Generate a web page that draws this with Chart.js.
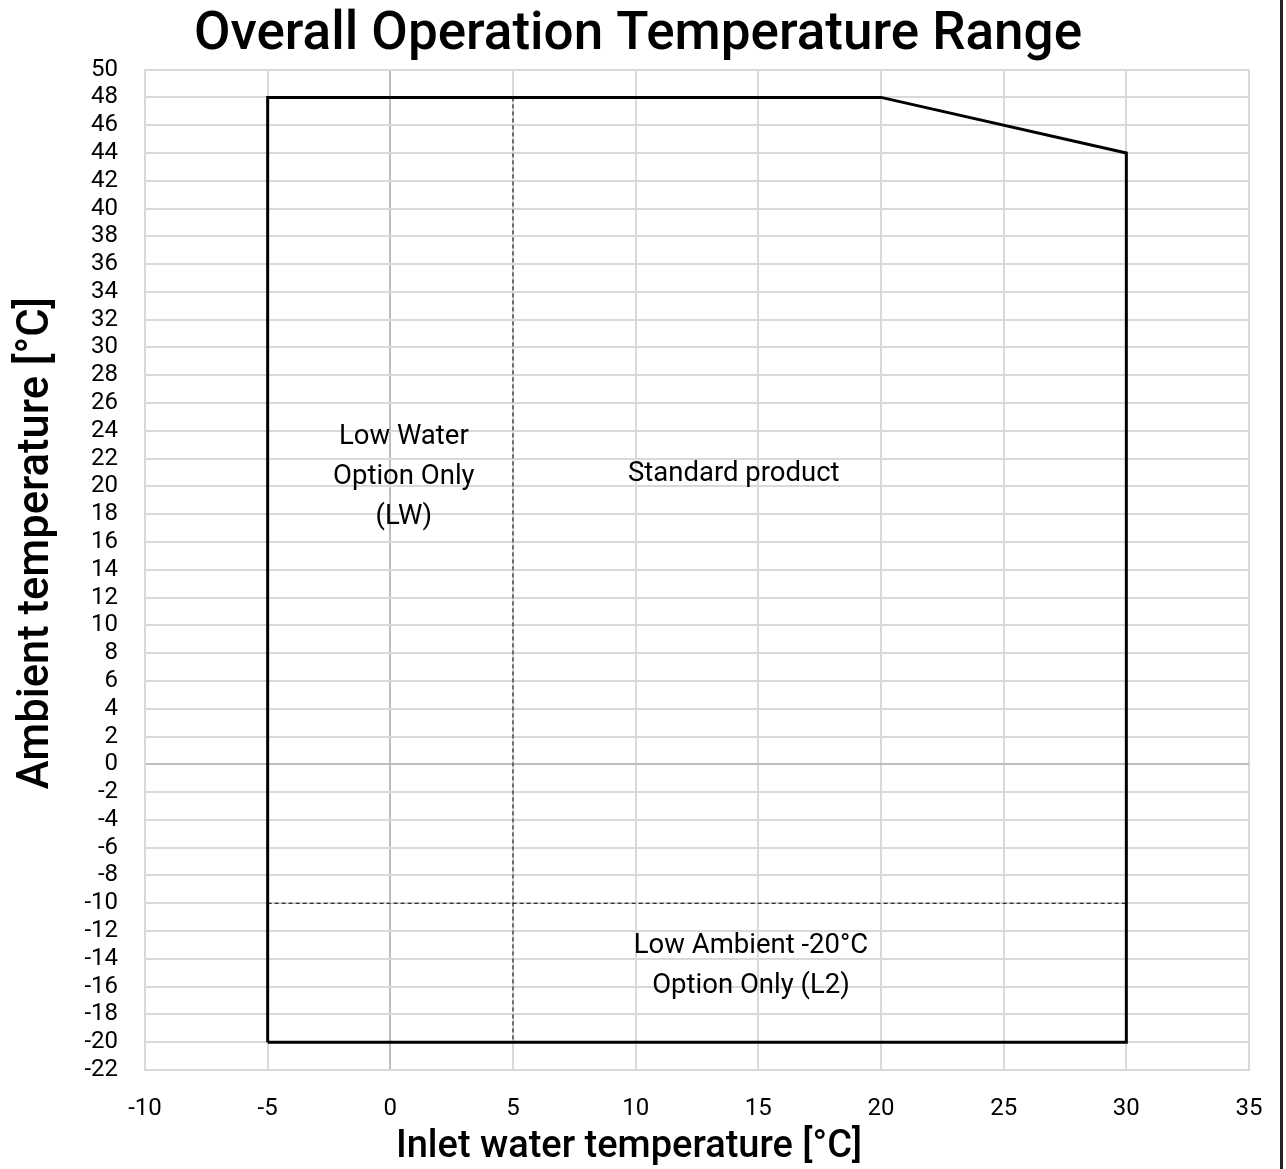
<!DOCTYPE html>
<html>
<head>
<meta charset="utf-8">
<title>Overall Operation Temperature Range</title>
<script src="https://cdn.jsdelivr.net/npm/chart.js@4.4.1/dist/chart.umd.min.js"></script>
<style>
    html, body { margin: 0; padding: 0; background: #fff; }
    #wrap { width: 1280px; height: 1169px; border-right: 3px solid #222; }
    canvas { display: block; }
</style>
</head>
<body>
<div id="wrap"><canvas id="range" width="1280" height="1169"></canvas></div>
<script>
(function () {

    "use strict";

    // Envelope of the operating range (inlet water / ambient, °C)
    var outlineX = [-5, -5, 20, 30, 30, -5];
    var outlineY = [-20, 48, 48, 44, -20, -20];

    // Option boundaries (dashed)
    var lwBorderX = [5, 5];
    var lwBorderY = [48, -20];
    var l2BorderX = [-5, 30];
    var l2BorderY = [-10, -10];

    // Text inside each zone
    var noteText = [
        ['Low Water', 'Option Only', '(LW)'],
        ['Standard product'],
        ['Low Ambient -20°C', 'Option Only (L2)']
    ];
    var noteX = [0.55, 14, 14.7];
    var noteY = [20.65, 20.9, -14.5];

    // Axis ranges
    var xMin = -10, xMax = 35, xStep = 5;
    var yMin = -22, yMax = 50, yStep = 2;

    var xTitle = 'Inlet water temperature [°C]';
    var yTitle = 'Ambient temperature [°C]';

    var FONT = 'Roboto, "Noto Sans", sans-serif';

    function toPoints(xs, ys) {
        return xs.map(function (x, i) { return { x: x, y: ys[i] }; });
    }

    Chart.defaults.font.family = FONT;
    Chart.defaults.color = '#000';

    // Zone captions at data coordinates, plus the two axis titles
    var zoneNotes = {
        id: 'zoneNotes',
        afterDatasetsDraw: function (chart) {
            var ctx = chart.ctx;
            var sx = chart.scales.x, sy = chart.scales.y;
            var lh = 40;
            ctx.save();
            ctx.font = '27.5px ' + FONT;
            ctx.fillStyle = '#000';
            ctx.textAlign = 'center';
            ctx.textBaseline = 'middle';
            noteText.forEach(function (lines, i) {
                var px = sx.getPixelForValue(noteX[i]);
                var py = sy.getPixelForValue(noteY[i]) - (lines.length - 1) * lh / 2;
                lines.forEach(function (t, j) {
                    ctx.fillText(t, px, py + j * lh);
                });
            });
            ctx.restore();
        },
        afterDraw: function (chart) {
            var ctx = chart.ctx;
            ctx.save();
            ctx.fillStyle = '#000';
            ctx.textAlign = 'center';
            ctx.textBaseline = 'middle';
            ctx.font = '500 38px ' + FONT;
            ctx.fillText(xTitle, 629, 1147);
            ctx.translate(37, 543);
            ctx.rotate(-Math.PI / 2);
            ctx.font = '500 43.5px ' + FONT;
            ctx.fillText(yTitle, 0, 0);
            ctx.restore();
        }
    };

    function gridColor(c) {
        return c.tick && c.tick.value === 0 ? '#bdbdbd' : '#d9d9d9';
    }

    new Chart(document.getElementById('range'), {
        type: 'scatter',
        data: {
            datasets: [{
                data: toPoints(outlineX, outlineY),
                showLine: true,
                borderColor: '#000',
                borderWidth: 3,
                pointRadius: 0,
                borderJoinStyle: 'miter'
            }, {
                data: toPoints(lwBorderX, lwBorderY),
                showLine: true,
                borderColor: '#000',
                borderWidth: 1,
                borderDash: [4, 3],
                pointRadius: 0
            }, {
                data: toPoints(l2BorderX, l2BorderY),
                showLine: true,
                borderColor: '#000',
                borderWidth: 1,
                borderDash: [4, 3],
                pointRadius: 0
            }]
        },
        options: {
            responsive: false,
            animation: false,
            layout: { padding: { left: 27, right: 31 } },
            plugins: {
                legend: { display: false },
                tooltip: { enabled: false },
                title: {
                    display: true,
                    text: 'Overall Operation Temperature Range',
                    font: { size: 53, weight: '500' },
                    color: '#000',
                    padding: { top: 4, bottom: 2 }
                }
            },
            scales: {
                x: {
                    type: 'linear',
                    min: xMin,
                    max: xMax,
                    // small padding + tall line keeps the labels low without eating the right margin
                    ticks: { stepSize: xStep, padding: 2, font: { size: 24, lineHeight: 3.05 } },
                    grid: { color: gridColor, drawTicks: false, lineWidth: 2 },
                    border: { color: '#d9d9d9', width: 2 },
                    afterFit: function (scale) { scale.height = 99; }
                },
                y: {
                    type: 'linear',
                    min: yMin,
                    max: yMax,
                    ticks: { stepSize: yStep, padding: 27, font: { size: 24 }, autoSkip: false },
                    grid: { color: gridColor, drawTicks: false, lineWidth: 2 },
                    border: { color: '#d9d9d9', width: 2 },
                    afterFit: function (scale) { scale.width = 118; }
                }
            }
        },
        plugins: [zoneNotes]
    });

})();
</script>
</body>
</html>
